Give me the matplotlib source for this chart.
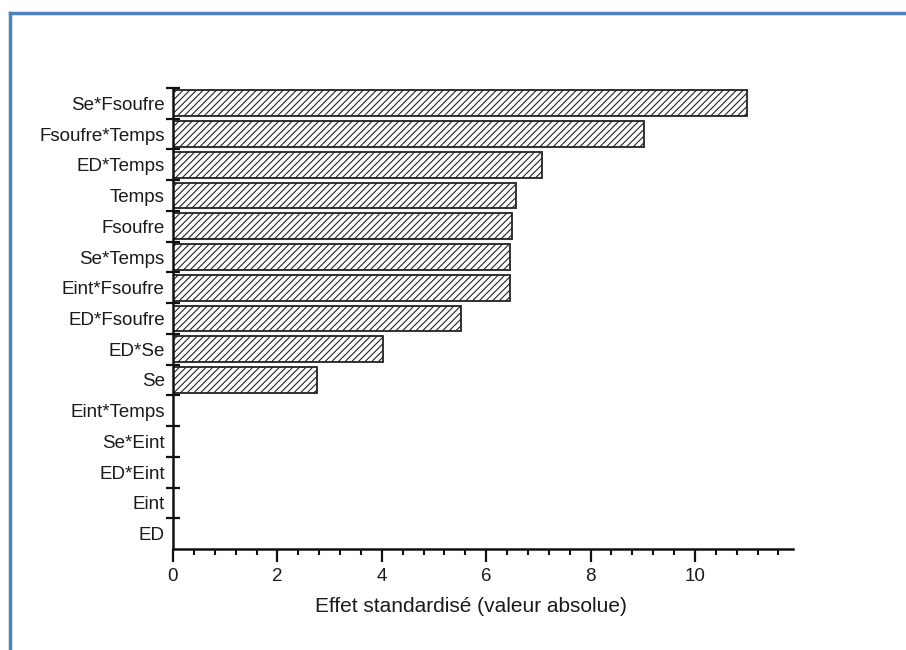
import matplotlib
matplotlib.use("Agg")
import matplotlib.pyplot as plt
from matplotlib.lines import Line2D
from matplotlib.ticker import MultipleLocator, FixedLocator

plt.rcParams['font.family'] = ['Liberation Sans', 'DejaVu Sans']
plt.rcParams['hatch.color'] = '#555555'
plt.rcParams['hatch.linewidth'] = 0.8

# Effets standardises (top to bottom)
effets = ["Se*Fsoufre", "Fsoufre*Temps", "ED*Temps", "Temps", "Fsoufre",
          "Se*Temps", "Eint*Fsoufre", "ED*Fsoufre", "ED*Se", "Se",
          "Eint*Temps", "Se*Eint", "ED*Eint", "Eint", "ED"]
valeurs = [11.0, 9.02, 7.07, 6.57, 6.49, 6.46, 6.46, 5.51, 4.03, 2.75,
           0, 0, 0, 0, 0]

W, H = 906, 650
fig = plt.figure(figsize=(W / 100, H / 100), dpi=100)
ax = fig.add_axes([173 / W, 1 - 549 / H, (793 - 173) / W, (549 - 88) / H])

pos = list(range(len(effets)))
ax.barh(pos, valeurs, height=0.84, color='white', edgecolor='#222222',
        linewidth=1.3, hatch='/////')

ax.set_xlim(0, 11.88)
ax.set_ylim(len(effets) - 0.5, -0.5)

# axes style
for s in ['top', 'right']:
    ax.spines[s].set_visible(False)
for s in ['left', 'bottom']:
    ax.spines[s].set_linewidth(1.8)
    ax.spines[s].set_color('#111111')

ax.set_yticks(pos)
ax.set_yticklabels(effets)
ax.yaxis.set_minor_locator(FixedLocator([p - 0.5 for p in pos]))
ax.tick_params(axis='y', which='major', length=0, pad=6, labelsize=13.5,
               labelcolor='#1a1a1a')
ax.tick_params(axis='y', which='minor', direction='inout', length=10, width=1.6,
               color='#111111')

ax.xaxis.set_major_locator(MultipleLocator(2))
ax.xaxis.set_minor_locator(MultipleLocator(0.4))
ax.tick_params(axis='x', which='major', direction='out', length=9, width=1.6,
               labelsize=13.5, pad=5, labelcolor='#1a1a1a', color='#111111')
ax.tick_params(axis='x', which='minor', direction='out', length=4.5, width=1.5,
               color='#111111')

ax.set_xlabel("Effet standardisé (valeur absolue)", fontsize=15,
              color='#1a1a1a', labelpad=10)
ax.xaxis.set_label_coords((471 - 173) / 620, -0.105)

# blue frame (left and top)
fig.add_artist(Line2D([9.5 / W, 9.5 / W], [0, 1 - 12.5 / H], color='#4F81BD',
                      linewidth=2.5, transform=fig.transFigure))
fig.add_artist(Line2D([9.5 / W, 1], [1 - 12.5 / H, 1 - 12.5 / H], color='#4F81BD',
                      linewidth=2.5, transform=fig.transFigure))

fig.savefig("out.png", dpi=100)
